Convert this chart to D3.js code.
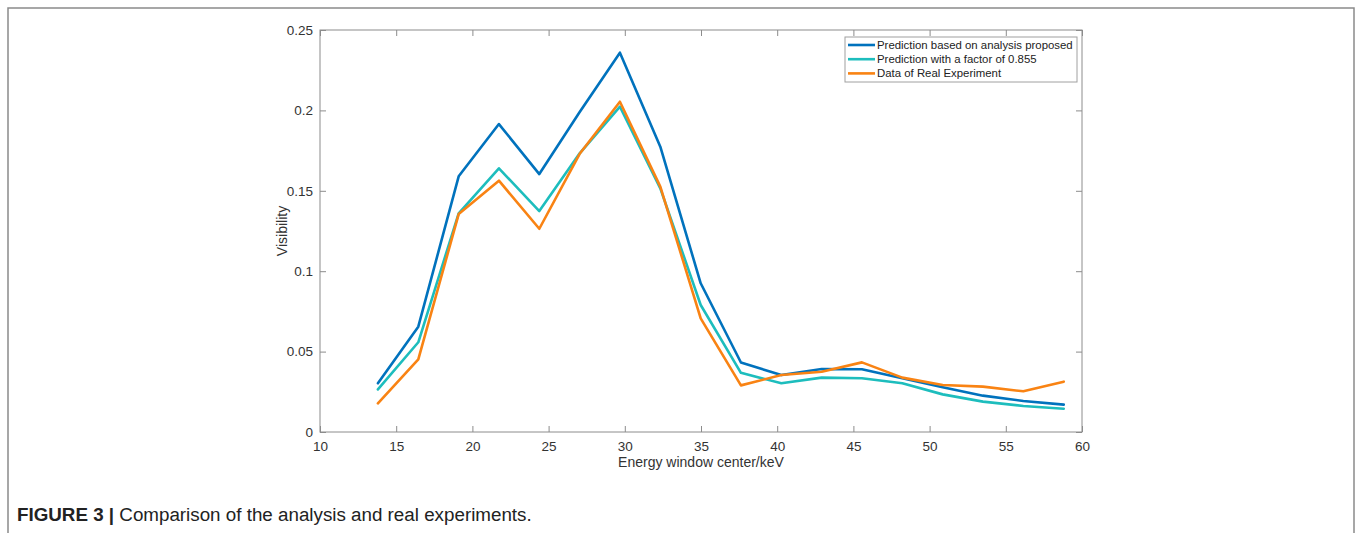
<!DOCTYPE html>
<html>
<head>
<meta charset="utf-8">
<script src="https://cdn.jsdelivr.net/npm/d3@7"></script>
<style>
body { margin: 0; background: #fff; }
svg { display: block; font-family: "Liberation Sans", Arial, sans-serif; }
</style>
</head>
<body>
<div id="chart"></div>
<script>
var w = 1355,
	h = 533;

// energy window centres (keV)
var energy = [13.8, 16.45, 19.1, 21.74, 24.39, 27.04, 29.68, 32.33, 34.98, 37.62, 40.27, 42.92, 45.56, 48.21, 50.86, 53.5, 56.15, 58.8];
var predicted = [0.0303, 0.0655, 0.159, 0.1915, 0.1604, 0.199, 0.2359, 0.1774, 0.0925, 0.0432, 0.0354, 0.0392, 0.039, 0.0334, 0.0278, 0.0226, 0.0193, 0.017];
var scaled = [0.0265, 0.0558, 0.136, 0.164, 0.1374, 0.1733, 0.2023, 0.1515, 0.079, 0.0368, 0.0303, 0.0338, 0.0334, 0.0303, 0.0234, 0.0189, 0.0162, 0.0145];
var measured = [0.0178, 0.0452, 0.1355, 0.1563, 0.1264, 0.173, 0.2054, 0.1526, 0.0707, 0.029, 0.0354, 0.0375, 0.0433, 0.0338, 0.0292, 0.0282, 0.0253, 0.0313];

var seriesNames = ["Prediction based on analysis proposed", "Prediction with a factor of 0.855", "Data of Real Experiment"];
var seriesColors = ["#0072BD", "#1DBDBD", "#F98313"];
var xTicks = [10, 15, 20, 25, 30, 35, 40, 45, 50, 55, 60];
var yTicks = [0, 0.05, 0.1, 0.15, 0.2, 0.25];

var root = d3.select("#chart").append("svg").attr("width", w).attr("height", h);

// outer figure frame (bottom edge is off the page)
root.append("path").attr("d", "M8," + h + "V8H1354V" + h).style("fill", "none").style("stroke", "#8a8a8a").style("stroke-width", 1.5);

var pLeft = 320, pRight = 1082, pTop = 30, pBottom = 432;
var x = d3.scaleLinear().domain([10, 60]).range([pLeft, pRight]);
var y = d3.scaleLinear().domain([0, 0.25]).range([pBottom, pTop]);

var axisColor = "#8c8c8c", labelColor = "#333";

function styleAxis(g) {
	g.select(".domain").remove();
	g.selectAll("line").style("stroke", axisColor);
	g.selectAll("text").style("fill", labelColor).style("font-size", "13.5px");
}

var fmt = function(d) { return d === 0 ? "0" : String(d); };

root.append("g").attr("transform", "translate(0," + pBottom + ")")
	.call(d3.axisBottom(x).tickValues(xTicks).tickSize(-6).tickPadding(9).tickFormat(fmt))
	.call(styleAxis);
root.append("g").attr("transform", "translate(0," + pTop + ")")
	.call(d3.axisTop(x).tickValues(xTicks).tickSize(-6).tickFormat(""))
	.call(styleAxis);
root.append("g").attr("transform", "translate(" + pLeft + ",0)")
	.call(d3.axisLeft(y).tickValues(yTicks).tickSize(-6).tickPadding(7).tickFormat(fmt))
	.call(styleAxis);
root.append("g").attr("transform", "translate(" + pRight + ",0)")
	.call(d3.axisRight(y).tickValues(yTicks).tickSize(-6).tickFormat(""))
	.call(styleAxis);

root.append("rect").attr("x", pLeft).attr("y", pTop).attr("width", pRight - pLeft).attr("height", pBottom - pTop)
	.style("fill", "none").style("stroke", axisColor).style("stroke-width", 1);

// axis titles
root.append("text").attr("x", (pLeft + pRight) / 2).attr("y", 467).attr("text-anchor", "middle")
	.style("font-size", "14px").style("fill", labelColor).text("Energy window center/keV");
root.append("text").attr("transform", "translate(287," + ((pTop + pBottom) / 2) + ") rotate(-90)").attr("text-anchor", "middle")
	.style("font-size", "14px").style("fill", labelColor).text("Visibility");

// lines
var series = [predicted, scaled, measured];
var line = d3.line().x(function(d, i) { return x(energy[i]); }).y(function(d) { return y(d); });
for (var s = 0; s < series.length; s++) {
	root.append("path").attr("d", line(series[s]))
		.style("fill", "none").style("stroke", seriesColors[s]).style("stroke-width", 2.6)
		.style("stroke-linejoin", "round").style("stroke-linecap", "round");
}

// legend
var lg = root.append("g").attr("transform", "translate(845,37)");
lg.append("rect").attr("width", 232).attr("height", 45).style("fill", "#fff").style("stroke", "#a0a0a0").style("stroke-width", 1);
for (var k = 0; k < seriesNames.length; k++) {
	var ly = 8 + k * 14.2;
	lg.append("line").attr("x1", 3).attr("x2", 30).attr("y1", ly).attr("y2", ly)
		.style("stroke", seriesColors[k]).style("stroke-width", 2.6);
	lg.append("text").attr("x", 32).attr("y", ly + 4).style("font-size", "11.4px").style("fill", "#222").text(seriesNames[k]);
}

// caption
var cap = root.append("text").attr("x", 17).attr("y", 521).style("font-size", "18.8px").style("fill", "#222");
cap.append("tspan").style("font-weight", "bold").text("FIGURE 3 | ");
cap.append("tspan").text("Comparison of the analysis and real experiments.");
</script>
</body>
</html>
